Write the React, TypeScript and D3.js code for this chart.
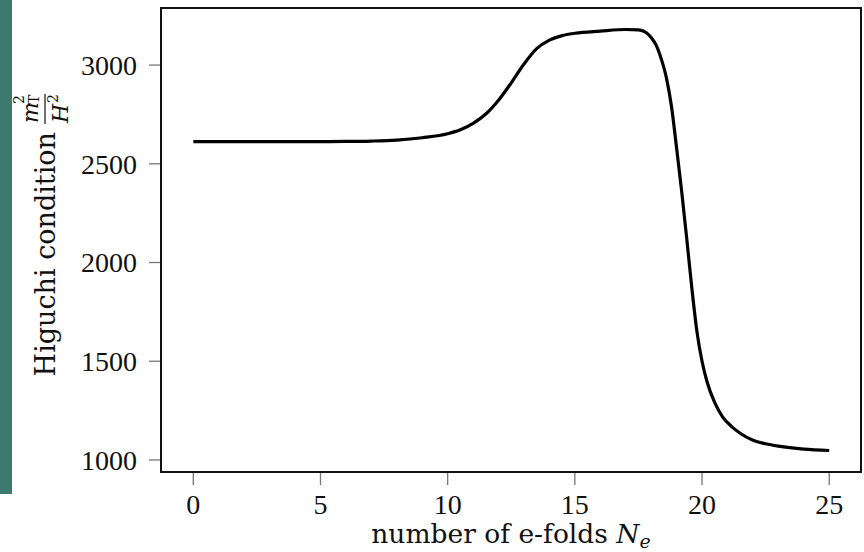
import React from 'react';
import * as d3 from 'd3';

// e-folds vs Higuchi condition
const efolds = [0, 2, 4, 6, 7, 8, 9, 10, 10.5, 11, 11.5, 12, 12.5, 13, 13.5, 14, 14.5, 15, 16, 17, 17.5, 17.8, 18, 18.2, 18.4, 18.6, 18.8, 19.0, 19.2, 19.4, 19.6, 19.8, 20.0, 20.2, 20.5, 20.8, 21.2, 21.5, 22, 22.5, 23, 24, 25];
const higuchi = [2612, 2612, 2612, 2613, 2615, 2620, 2632, 2652, 2672, 2705, 2752, 2822, 2910, 3005, 3083, 3126, 3149, 3161, 3172, 3180, 3178, 3165, 3140, 3100, 3030, 2935, 2790, 2580, 2360, 2120, 1870, 1650, 1500, 1395, 1290, 1220, 1165, 1135, 1100, 1082, 1070, 1055, 1048];
const xTicks = [0, 5, 10, 15, 20, 25];
const yTicks = [1000, 1500, 2000, 2500, 3000];

const W = 864;
const H = 552;
const left = 161, right = 861, top = 8, bottom = 472;
const tickFont = '"Liberation Serif", "Times New Roman", serif';
const labelFont = '"DejaVu Serif", serif';

export default function App() {
  const x = d3.scaleLinear().domain([-1.27, 26.25]).range([left, right]);
  const y = d3.scaleLinear().domain([939, 3289]).range([bottom, top]);
  const pts: [number, number][] = efolds.map((e, i) => [e, higuchi[i]]);
  const line = d3.line<[number, number]>()
    .x(d => x(d[0]))
    .y(d => y(d[1]))
    .curve(d3.curveMonotoneX);

  return (
    <svg width={W} height={H} style={{ position: 'absolute', left: 0, top: 0, background: '#fff' }}>
      <rect x={0} y={0} width={12} height={494} fill="#3d7a6e" />

      {/* ticks */}
      {yTicks.map(t => (
        <g key={'y' + t}>
          <line x1={left - 12} x2={left} y1={y(t)} y2={y(t)} stroke="#777" strokeWidth={1.3} />
          <text x={137} y={y(t)} dy="0.35em" textAnchor="end" fontFamily={tickFont} fontSize={28} fill="#111">{t}</text>
        </g>
      ))}
      {xTicks.map(t => (
        <g key={'x' + t}>
          <line x1={x(t)} x2={x(t)} y1={bottom} y2={bottom + 13} stroke="#777" strokeWidth={1.3} />
          <text x={x(t)} y={514} textAnchor="middle" fontFamily={tickFont} fontSize={28} fill="#111">{t}</text>
        </g>
      ))}

      <path d={line(pts) || ''} fill="none" stroke="#000" strokeWidth={3.2} strokeLinejoin="round" />
      <rect x={left} y={top} width={right - left} height={bottom - top} fill="none" stroke="#111" strokeWidth={2} />

      {/* x label */}
      <text x={511} y={543} textAnchor="middle" fontFamily={labelFont} fontSize={26.5} fill="#111">
        number of e-folds <tspan fontStyle="italic">N</tspan><tspan fontStyle="italic" fontSize={19} dy={5}>e</tspan>
      </text>

      {/* y label */}
      <g transform="translate(55,240) rotate(-90)" fontFamily={labelFont} fill="#111">
        <text x={108} y={0} textAnchor="end" fontSize={27}>Higuchi condition</text>
        <text x={117} y={-17} fontSize={22} fontStyle="italic">m</text>
        <text x={136} y={-31} fontSize={14}>2</text>
        <text x={136} y={-16} fontSize={14}>T</text>
        <line x1={116} x2={146} y1={-10} y2={-10} stroke="#111" strokeWidth={1.2} />
        <text x={117} y={13} fontSize={22} fontStyle="italic">H</text>
        <text x={137} y={3} fontSize={14}>2</text>
      </g>
    </svg>
  );
}
